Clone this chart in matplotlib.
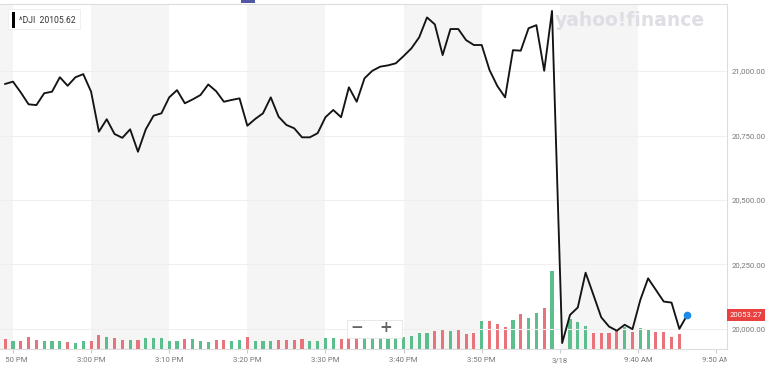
import matplotlib
matplotlib.use("Agg")
import matplotlib.pyplot as plt
from matplotlib.patches import Rectangle
from matplotlib.transforms import Bbox, TransformedBbox, blended_transform_factory
import numpy as np

# one point per minute, position 0 = 2:50 PM, 70 = 9:30 AM on 3/18
price_day1 = [20950, 20959, 20917, 20871, 20868, 20914, 20920, 20976, 20943, 20976,
              20988, 20920, 20765, 20813, 20756, 20741, 20774, 20687, 20774, 20827,
              20836, 20898, 20926, 20875, 20890, 20907, 20948, 20922, 20881, 20888,
              20894, 20788, 20814, 20836, 20898, 20823, 20791, 20778, 20743, 20743,
              20759, 20821, 20849, 20821, 20937, 20881, 20972, 21001, 21017, 21022,
              21030, 21058, 21088, 21131, 21208, 21181, 21062, 21163, 21163, 21120,
              21101, 21101, 21004, 20942, 20898, 21081, 21079, 21166, 21178, 21001,
              21233]
price_day2 = [19945, 20054, 20083, 20218, 20132, 20045, 20009, 19993, 20016, 19999,
              20112, 20196, 20151, 20106, 20102, 20000, 20053.27]

volume_day1 = [10, 7.7, 8.3, 12, 8.7, 8.3, 7.7, 7.7, 6.7, 6,
               7.7, 8.3, 14.3, 11.7, 11, 9, 8.7, 8.7, 11, 11,
               11, 8.3, 8.3, 9.7, 9.7, 8.3, 6.7, 8.7, 8.7, 8.3,
               9.3, 11.7, 8.3, 8.3, 7.7, 9.3, 9.3, 9.3, 10, 7.7,
               8.3, 11, 11, 10.3, 11, 11.7, 11.7, 11.7, 11, 11,
               11, 12, 13, 16, 16.5, 18.5, 19, 18.5, 19, 15.5,
               16.5, 28.3, 28, 25, 21.7, 29.5, 35, 31, 36, 41,
               78]
volume_day2 = [0, 29.7, 26.7, 23, 15.7, 15.7, 16.3, 19, 22.3, 17.3,
               21.3, 19, 17.3, 17.3, 12.3, 15]
updown_day1 = "rgrrrgggrgg" "rrgrrgrggg" "ggrgggrrgg" "rgggrrrrgg" "ggrrrggggg" "ggggrrgrrr" "grrrgrggrg"
updown_day2 = "gggrrrrgrggrrrr"

xtick_pos = [0, 10, 20, 30, 40, 50, 60, 70, 80, 90]
xtick_labels = ["2:50 PM", "3:00 PM", "3:10 PM", "3:20 PM", "3:30 PM", "3:40 PM",
                "3:50 PM", "3/18", "9:40 AM", "9:50 AM"]
ytick_vals = [20000, 20250, 20500, 20750, 21000]

prices = np.array(price_day1 + price_day2)
px = np.arange(len(prices)) - 1.0
px[len(price_day1):] += 0.3      # 3/18 session sits a touch right of its tick
volumes = np.array(volume_day1 + volume_day2)
vx = np.arange(len(volumes)) - 1.0
vx[len(volume_day1):] += 0.3
updown = updown_day1 + "r" + updown_day2
vcolors = ["#5cbd8d" if c == "g" else "#e8737b" for c in updown]

W, H = 768, 366
fig = plt.figure(figsize=(W / 100, H / 100), dpi=100)
rect = [0, 17 / H, 727 / W, 345.5 / H]

# volume + background bands underneath
vax = fig.add_axes(rect)
vax.set_xlim(-1.66, 91.4)
vax.set_ylim(0, 345.5)
vax.axis("off")
for s in [-10, 10, 30, 50, 70]:
    vax.axvspan(s, s + 10, color="#f5f5f6", lw=0, zorder=0)
vax.bar(vx, volumes, width=0.4, color=vcolors, zorder=2)

# price axes on top
ax = fig.add_axes(rect)
ax.patch.set_visible(False)
ax.set_xlim(-1.66, 91.4)
ax.set_ylim(19922, 21262)
ax.plot(px, prices, color="#141414", lw=1.35, zorder=3)
ax.plot(px[-1], prices[-1], "o", color="#1d8be8", ms=4.5, zorder=4)

ax.set_yticks(ytick_vals)
ax.set_yticklabels([f"{v:,.2f}" for v in ytick_vals])
ax.yaxis.tick_right()
ax.yaxis.grid(True, color="#efefef", lw=0.8)
ax.set_axisbelow(True)
ax.tick_params(axis="y", length=0, pad=3, labelsize=5.6, labelcolor="#777777")
ax.set_xticks(xtick_pos)
ax.set_xticklabels(xtick_labels)
ax.tick_params(axis="x", length=3, color="#cccccc", pad=3, labelsize=5.6,
               labelcolor="#777777")
for lab in ax.get_xticklabels() + ax.get_yticklabels():
    lab.set_family("Roboto")
for side in ["top", "right", "bottom"]:
    ax.spines[side].set_color("#dddddd")
    ax.spines[side].set_linewidth(0.8)
ax.spines["left"].set_visible(False)

clip = TransformedBbox(Bbox([[6 / W, 0], [727 / W, 1]]), fig.transFigure)
for lab in ax.get_xticklabels():
    lab.set_clip_box(clip)
    lab.set_clip_on(True)

# watermark
ax.text(0.867, 0.952, "yahoo!finance", transform=ax.transAxes, ha="center",
        va="center", fontsize=13.5, fontweight="bold", color="#dedee4", zorder=1)

# last price label
trans = blended_transform_factory(ax.transAxes, ax.transData)
ax.text(1.004, prices[-1], f"{prices[-1]:.2f}", transform=trans, ha="left",
        va="center", fontsize=5.6, color="white", family="Roboto", zorder=5,
        bbox=dict(boxstyle="square,pad=0.35", fc="#e8413f", ec="none"), clip_on=False)


def fig_rect(x0, y0, x1, y1, **kw):
    r = Rectangle((x0 / W, 1 - y1 / H), (x1 - x0) / W, (y1 - y0) / H,
                  transform=fig.transFigure, **kw)
    fig.add_artist(r)


# legend box
fig_rect(8, 9, 80, 29, fc="white", ec="#eeeeee", lw=0.6, zorder=6)
fig_rect(12, 12, 15, 28, fc="black", ec="none", zorder=7)
fig.text(19 / W, 1 - 20.5 / H, "^DJI  20105.62", ha="left", va="center",
         fontsize=6.2, color="#333333", family="Roboto", zorder=8)

# zoom buttons
fig_rect(347, 320, 402, 338, fc="white", ec="#e4e4e4", lw=0.6, zorder=6)
fig.text(356.5 / W, 1 - 328 / H, "\u2212", ha="center", va="center",
         fontsize=11, fontweight="bold", color="#666666", zorder=8)
fig.text(386 / W, 1 - 328 / H, "+", ha="center", va="center",
         fontsize=11, fontweight="bold", color="#666666", zorder=8)
fig.add_artist(plt.Line2D([372 / W, 372 / W], [1 - 322 / H, 1 - 336 / H],
                          transform=fig.transFigure, color="#e4e4e4", lw=0.6))

# little tab indicator at top
fig_rect(241, 0, 255, 3, fc="#5156a6", ec="none", zorder=8)

fig.savefig("out.png", dpi=100)
